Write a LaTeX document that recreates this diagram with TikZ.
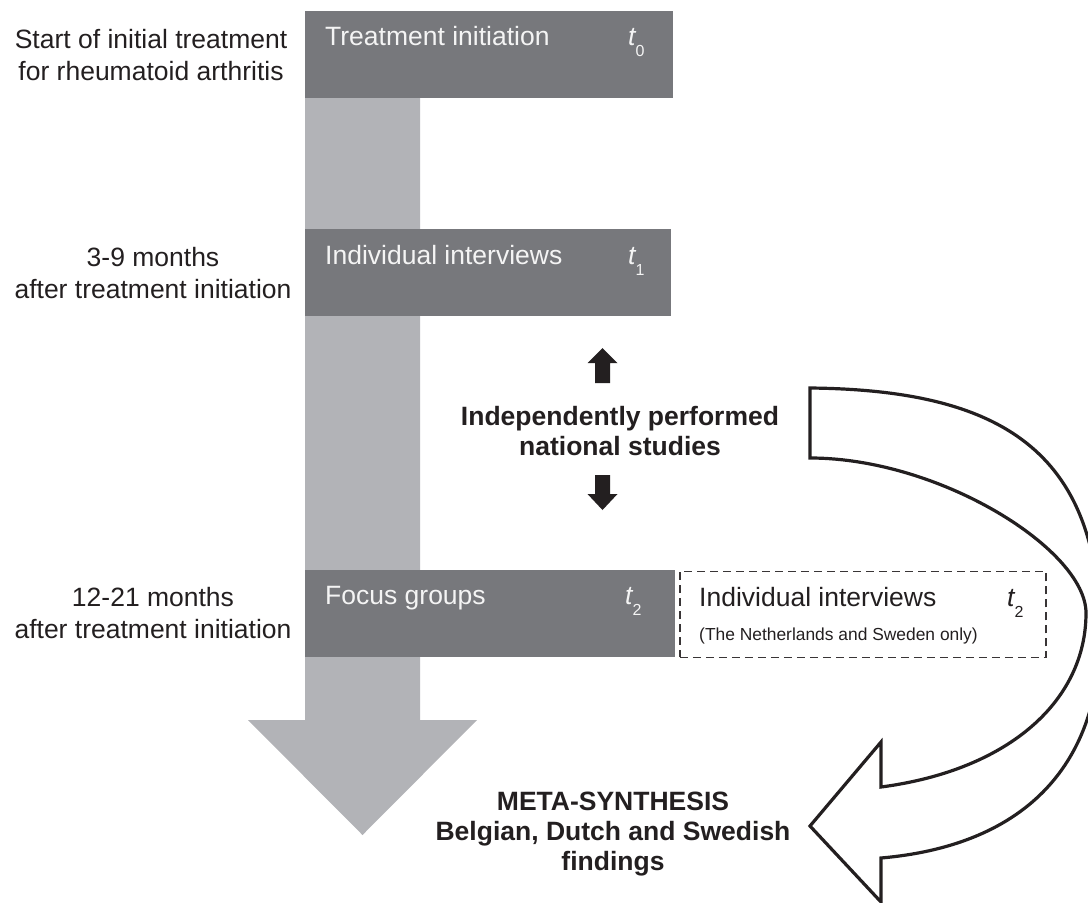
\documentclass[tikz,border=0pt]{standalone}
\usepackage{fontspec}
\setmainfont{Liberation Sans}
\definecolor{boxdark}{HTML}{77787C}
\definecolor{shaftgray}{HTML}{B2B3B7}
\definecolor{ink}{HTML}{231F20}
\definecolor{boxink}{HTML}{F4F4F4}
\newcommand{\tsymb}[1]{{\itshape t}\raisebox{-11pt}{\fontsize{16}{16}\selectfont #1}}
\tikzset{
  darkbox/.style={fill=boxdark, draw=none, anchor=north west, inner sep=0pt, minimum height=87pt},
  dashbox/.style={draw=ink!90, dash pattern=on 8pt off 5pt, line width=1.6pt, anchor=north west, inner sep=0pt, minimum height=86pt},
  boxtext/.style={text=boxink, font=\fontsize{26.5}{32}\selectfont, anchor=base west, inner sep=0pt},
  plaintext/.style={text=ink, font=\fontsize{26.5}{32}\selectfont, anchor=base west, inner sep=0pt},
  smalltext/.style={text=ink, font=\fontsize{17.4}{20}\selectfont, anchor=base west, inner sep=0pt},
  sidelabel/.style={text=ink, font=\fontsize{26.5}{32}\selectfont, align=center, anchor=base, inner sep=0pt},
  boldlabel/.style={text=ink, font=\fontsize{26.5}{30}\selectfont\bfseries, align=center, anchor=base, inner sep=0pt},
  outlinearrow/.style={draw=ink, line width=3.2pt, line join=miter, fill=white},
  blockarrow/.style={fill=ink, draw=none}
}
\begin{document}
\begin{tikzpicture}[x=1pt, y=-1pt]
\useasboundingbox (0,0) rectangle (1088,903);
\clip (0,0) rectangle (1088,903);

% timeline shaft and arrowhead
\fill[shaftgray] (305,98) -- (420,98) -- (420,720) -- (477,720) -- (362.5,835)
   -- (248,720) -- (305,720) -- cycle;

% boxes
\node[darkbox, minimum width=368pt] (box0) at (305,11) {};
\node[darkbox, minimum width=366pt] (box1) at (305,229) {};
\node[darkbox, minimum width=370pt] (box2) at (305,570) {};
\node[dashbox, minimum width=366pt] (box3) at (679,570.5) {};

% box texts
\node[boxtext] (box0t) at (325,45) {Treatment initiation};
\node[boxtext] (box0s) at (628,45) {\tsymb{0}};
\node[boxtext] (box1t) at (325,264) {Individual interviews};
\node[boxtext] (box1s) at (628,264) {\tsymb{1}};
\node[boxtext] (box2t) at (325,604) {Focus groups};
\node[boxtext] (box2s) at (625,604) {\tsymb{2}};
\node[plaintext] (box3t) at (699,606) {Individual interviews};
\node[plaintext] (box3s) at (1007,606) {\tsymb{2}};
\node[smalltext] (box3n) at (699,640) {(The Netherlands and Sweden only)};

% side labels (base anchor = baseline of last line)
\node[sidelabel] (lab0) at (151,80) {Start of initial treatment\\for rheumatoid arthritis};
\node[sidelabel] (lab1) at (153,298) {3-9 months\\after treatment initiation};
\node[sidelabel] (lab2) at (153,638) {12-21 months\\after treatment initiation};

% independent studies
\node[boldlabel] (indep) at (620,455) {Independently performed\\national studies};
\fill[ink] (595,383) -- (595,363) -- (587.5,363) -- (602.5,348) -- (617.5,363)
   -- (610,363) -- (610,383) -- cycle;
\fill[ink] (595,475) -- (610,475) -- (610,494) -- (617.5,494) -- (602.5,510)
   -- (587.5,494) -- (595,494) -- cycle;

% meta-synthesis
\node[boldlabel] (meta) at (613,870) {META-SYNTHESIS\\Belgian, Dutch and Swedish\\findings};

% curved outline arrow
\draw[outlinearrow] (810,388) .. controls (1000,390) and (1100,450) .. (1100,635)
   .. controls (1100,760) and (1030,845) .. (881,858)
   -- (881,902) -- (810,826) -- (881,742) -- (881,787)
   .. controls (1010,770) and (1086,700) .. (1086,613)
   .. controls (1086,550) and (940,458) .. (810,458) -- cycle;
\end{tikzpicture}
\end{document}
